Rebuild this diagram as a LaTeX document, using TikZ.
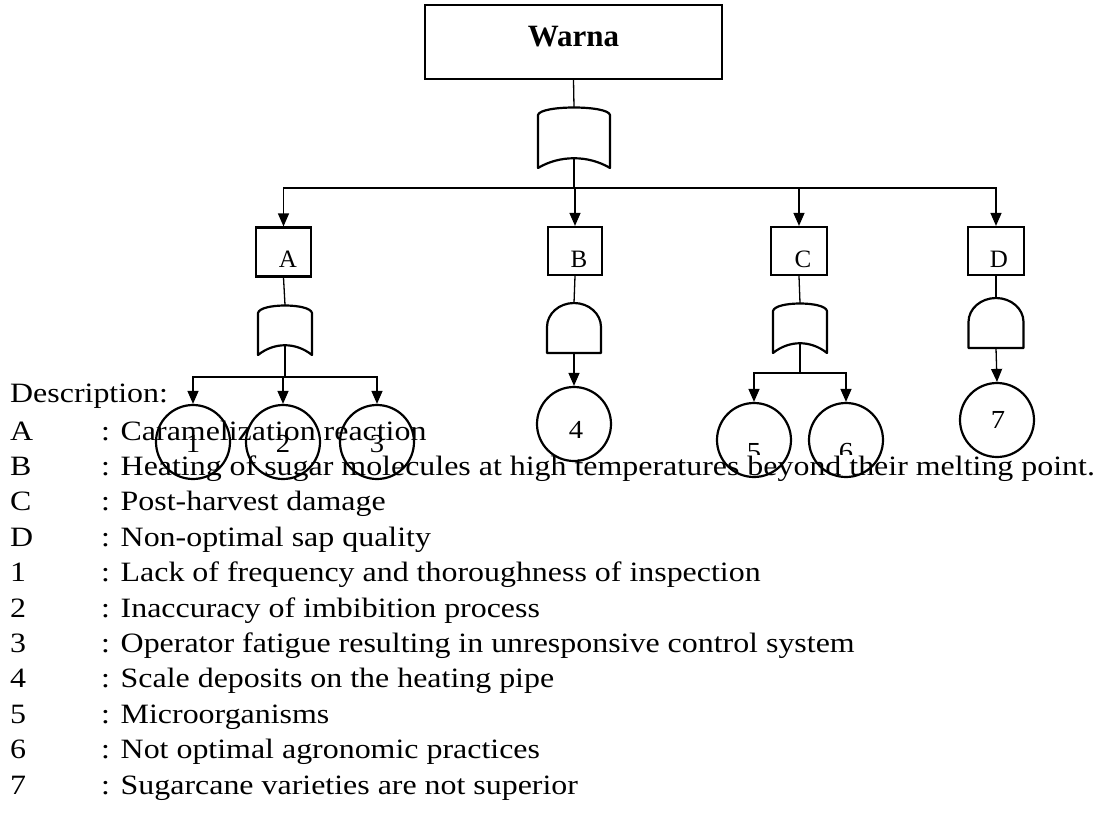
\documentclass[tikz,border=0pt]{standalone}
\usepackage{fontspec}
\setmainfont{Liberation Serif}
\newfontfamily\widefont[FakeStretch=1.14]{Liberation Serif}
\newfontfamily\numfont[FakeStretch=1.1]{Liberation Serif}
\usetikzlibrary{arrows.meta}

\tikzset{
  eventbox/.style={draw, line width=2.2pt, rectangle, inner sep=0pt},
  conn/.style={line width=1.3pt},
  arr/.style={conn, -{Triangle[width=11pt,length=13pt]}},
  gate/.style={line width=2.2pt, line join=round},
  basic/.style={draw, circle, line width=2.2pt, minimum size=74pt, inner sep=0pt},
  boxletter/.style={anchor=base, inner sep=0pt, font=\fontsize{25}{28}\selectfont},
  basicnum/.style={anchor=base, inner sep=0pt, font=\numfont\fontsize{26}{30}\selectfont},
  desc/.style={anchor=base west, inner sep=0pt, font=\widefont\fontsize{28}{34}\selectfont},
}

% OR gate: centre x, top y, bottom y, half width
\newcommand\orgate[4]{%
  \draw[gate] (#1-#4,#2+8) .. controls (#1-#4+2,#2-2) and (#1+#4-2,#2-2) .. (#1+#4,#2+8)
    -- (#1+#4,#3) .. controls (#1+0.4*#4,#3-13) and (#1-0.4*#4,#3-13) .. (#1-#4,#3) -- cycle;}
% AND gate: centre x, top y, bottom y, half width
\newcommand\andgate[4]{%
  \draw[gate] (#1-#4,#3) -- (#1-#4,#2+24)
    .. controls (#1-#4,#2+10.8) and (#1-0.552*#4,#2) .. (#1,#2)
    .. controls (#1+0.552*#4,#2) and (#1+#4,#2+10.8) .. (#1+#4,#2+24)
    -- (#1+#4,#3) -- cycle;}

\begin{document}
\begin{tikzpicture}[x=1pt,y=-1pt]
\useasboundingbox (0,0) rectangle (1101,814);

% description list
\node[desc] (dhead) at (10,402) {Description:};
\foreach \k/\t [count=\i from 0] in {
  A/Caramelization reaction,
  B/Heating of sugar molecules at high temperatures beyond their melting point.,
  C/Post-harvest damage,
  D/Non-optimal sap quality,
  1/Lack of frequency and thoroughness of inspection,
  2/Inaccuracy of imbibition process,
  3/Operator fatigue resulting in unresponsive control system,
  4/Scale deposits on the heating pipe,
  5/Microorganisms,
  6/Not optimal agronomic practices,
  7/Sugarcane varieties are not superior}{
  \node[desc] (key\i) at (10,440+35.4*\i) {\k};
  \node[desc] (txt\i) at (101,440+35.4*\i) {: \t};
}

% top event
\node[eventbox, minimum width=297pt, minimum height=74pt, text height=20pt, text depth=12pt,
      font=\fontsize{31}{36}\selectfont\bfseries] (top) at (573.5,42) {Warna};

% intermediate events
\node[eventbox, minimum width=55pt, minimum height=49pt] (A) at (283.5,252) {};
\node[eventbox, minimum width=54pt, minimum height=48pt] (B) at (575,251) {};
\node[eventbox, minimum width=56pt, minimum height=48pt] (C) at (799,251) {};
\node[eventbox, minimum width=56pt, minimum height=48pt] (D) at (996,251) {};
\node[boxletter] (lA) at (288,267) {A};
\node[boxletter] (lB) at (579,267) {B};
\node[boxletter] (lC) at (803,267) {C};
\node[boxletter] (lD) at (999,267) {D};

% gates
\orgate{574}{107}{168}{36}
\coordinate (g0in) at (574,107);
\coordinate (g0out) at (574,158);
\coordinate (bus0) at (574,188);

\orgate{285}{305}{355}{27}
\coordinate (gAin) at (285,305);
\coordinate (gAout) at (285,346);
\coordinate (busA) at (285,377);

\andgate{574}{303}{353}{27}
\coordinate (gBin) at (574,303);
\coordinate (gBout) at (574,353);

\orgate{800}{303}{353}{27}
\coordinate (gCin) at (800,303);
\coordinate (gCout) at (800,344);
\coordinate (busC) at (800,373);

\andgate{996}{298}{348}{27.5}
\coordinate (gDin) at (996,298);
\coordinate (gDout) at (996,348);

% basic events
\node[basic] (e1) at (193,442) {};
\node[basic] (e2) at (283,442) {};
\node[basic] (e3) at (377,442) {};
\node[basic] (e4) at (574,424) {};
\node[basic] (e5) at (754,440) {};
\node[basic] (e6) at (846,440) {};
\node[basic] (e7) at (997,420) {};
\begin{scope}
  \clip (0,0) rectangle (1101,454);
  \node[basicnum] (n1) at (193,452) {1};
  \node[basicnum] (n2) at (283,452) {2};
  \node[basicnum] (n3) at (377,452) {3};
  \node[basicnum] (n5) at (754,460) {5};
  \node[basicnum] (n6) at (846,460) {6};
\end{scope}
\node[basicnum] (n4) at (576,438) {4};
\node[basicnum] (n7) at (998,428) {7};

% connectors
\draw[conn] (top.south) -- (g0in);
\draw[conn] (g0out) -- (bus0);
\foreach \n in {A,B,C,D}{\draw[arr] (bus0) -| (\n.north);}

\draw[conn] (A.south) -- (gAin);
\draw[conn] (gAout) -- (busA);
\foreach \n in {e1,e2,e3}{\draw[arr] (busA) -| (\n.north);}

\draw[conn] (B.south) -- (gBin);
\draw[arr] (gBout) -- (e4.north);

\draw[conn] (C.south) -- (gCin);
\draw[conn] (gCout) -- (busC);
\foreach \n in {e5,e6}{\draw[arr] (busC) -| (\n.north);}

\draw[conn] (D.south) -- (gDin);
\draw[arr] (gDout) -- (e7.north);
\end{tikzpicture}
\end{document}
